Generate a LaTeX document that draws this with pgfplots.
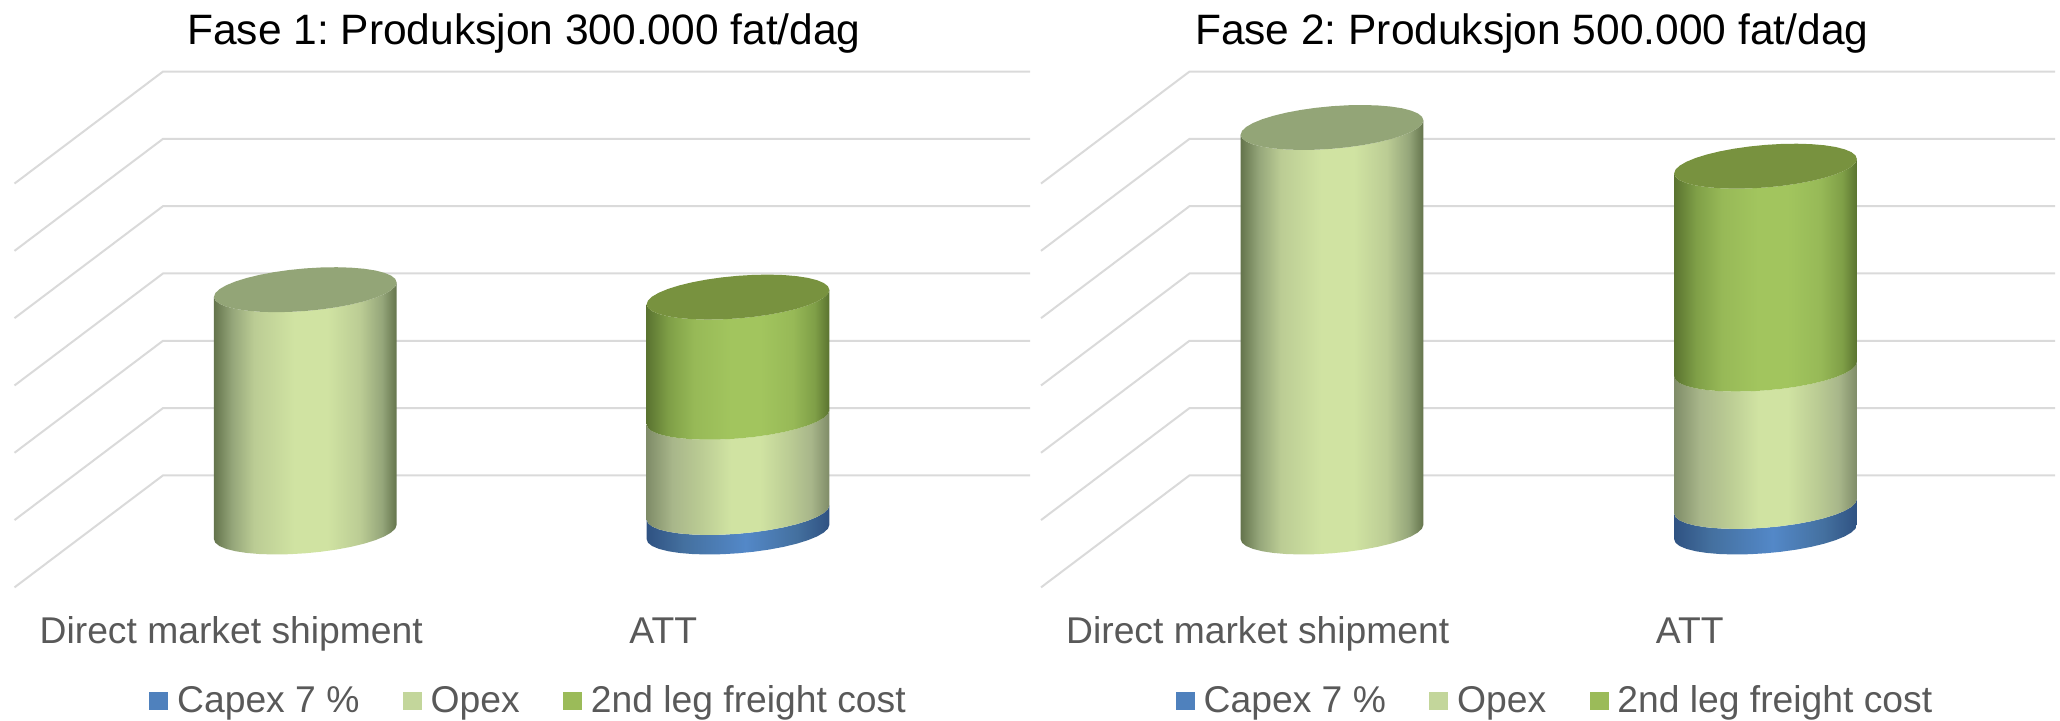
\documentclass[border=0pt]{standalone}
\usepackage{fontspec}
\setmainfont{Liberation Sans}
\usepackage{pgfplots}
\usepackage{pgfplotstable}
\pgfplotsset{compat=1.18}

% Series colours
\definecolor{capexc}{HTML}{4F81BD}
\definecolor{opexc}{HTML}{C3D69B}
\definecolor{freightc}{HTML}{9BBB59}
\definecolor{opextop}{HTML}{93A577}
\definecolor{freighttop}{HTML}{78923F}
\definecolor{gridc}{HTML}{DADADA}
\definecolor{labelc}{HTML}{595959}

% Sideways lighting of the cylinder mantles; a path spans 25bp to 75bp
\definecolor{oa}{HTML}{64744C}\definecolor{ob}{HTML}{95A67A}\definecolor{oc}{HTML}{BBCC94}\definecolor{od}{HTML}{D0E3A2}
\pgfdeclarehorizontalshading{mantleOpex}{100bp}{color(0bp)=(oa); color(25bp)=(oa); color(30bp)=(ob); color(36bp)=(oc); color(47bp)=(od); color(56bp)=(od); color(65bp)=(oc); color(71bp)=(ob); color(75bp)=(oa); color(100bp)=(oa)}
\definecolor{pa}{HTML}{7F8C68}\definecolor{pb}{HTML}{A8B68A}
\pgfdeclarehorizontalshading{mantleOpexStack}{100bp}{color(0bp)=(pa); color(25bp)=(pa); color(32bp)=(pb); color(40bp)=(oc); color(48bp)=(od); color(56bp)=(od); color(64bp)=(oc); color(70bp)=(pb); color(75bp)=(pa); color(100bp)=(pa)}
\definecolor{fa}{HTML}{5A7330}\definecolor{fb}{HTML}{7F9F47}\definecolor{fc}{HTML}{97B957}\definecolor{fd}{HTML}{A2C55E}
\pgfdeclarehorizontalshading{mantleFreight}{100bp}{color(0bp)=(fa); color(25bp)=(fa); color(31bp)=(fb); color(38bp)=(fc); color(48bp)=(fd); color(56bp)=(fd); color(65bp)=(fc); color(71bp)=(fb); color(75bp)=(fa); color(100bp)=(fa)}
\definecolor{ca}{HTML}{2F5282}\definecolor{cb}{HTML}{44709F}\definecolor{cd}{HTML}{5388C8}
\pgfdeclarehorizontalshading{mantleCapex}{100bp}{color(0bp)=(ca); color(25bp)=(ca); color(35bp)=(cb); color(52bp)=(cd); color(66bp)=(cb); color(75bp)=(ca); color(100bp)=(ca)}

% Values per chart, in gridline steps above the floor
\pgfplotstableread{
cx capex opex freight
305.3 0 3.60 0
738.0 0.29 1.415 1.785
}\faseone
\pgfplotstableread{
cx capex opex freight
305.5 0 6.01 0
739.0 0.38 2.04 3.015
}\fasetwo

% Unit outline of a mantle: front rim of the base, then front rim of the top
\pgfplotstableread{
c s h
1 0 0
.9848 -.1736 0
.9397 -.3420 0
.8660 -.5 0
.7660 -.6428 0
.6428 -.7660 0
.5 -.8660 0
.3420 -.9397 0
.1736 -.9848 0
0 -1 0
-.1736 -.9848 0
-.3420 -.9397 0
-.5 -.8660 0
-.6428 -.7660 0
-.7660 -.6428 0
-.8660 -.5 0
-.9397 -.3420 0
-.9848 -.1736 0
-1 0 0
-1 0 1
-.9848 -.1736 1
-.9397 -.3420 1
-.8660 -.5 1
-.7660 -.6428 1
-.6428 -.7660 1
-.5 -.8660 1
-.3420 -.9397 1
-.1736 -.9848 1
0 -1 1
.1736 -.9848 1
.3420 -.9397 1
.5 -.8660 1
.6428 -.7660 1
.7660 -.6428 1
.8660 -.5 1
.9397 -.3420 1
.9848 -.1736 1
1 0 1
}\mantleoutline

% Unit outline of the top face
\pgfplotstableread{
c s
1 0
.9848 .1736
.9397 .3420
.8660 .5
.7660 .6428
.6428 .7660
.5 .8660
.3420 .9397
.1736 .9848
0 1
-.1736 .9848
-.3420 .9397
-.5 .8660
-.6428 .7660
-.7660 .6428
-.8660 .5
-.9397 .3420
-.9848 .1736
-1 0
-.9848 -.1736
-.9397 -.3420
-.8660 -.5
-.7660 -.6428
-.6428 -.7660
-.5 -.8660
-.3420 -.9397
-.1736 -.9848
0 -1
.1736 -.9848
.3420 -.9397
.5 -.8660
.6428 -.7660
.7660 -.6428
.8660 -.5
.9397 -.3420
.9848 -.1736
}\topoutline

% One stacked section: #1 centre, #2 lower value, #3 upper value, #4 shading
\newcommand{\mantle}[4]{%
  \addplot[draw=none, shading=#4, forget plot] table[
    x expr=#1+91.35*\thisrow{c},
    y expr=#2+(#3-#2)*\thisrow{h}+.3165*\thisrow{s}+.107*\thisrow{c}
  ] {\mantleoutline} -- cycle;
}
% Top face: #1 centre, #2 value, #3 colour
\newcommand{\topface}[3]{%
  \addplot[draw=none, fill=#3, forget plot] table[
    x expr=#1+91.35*\thisrow{c},
    y expr=#2+.3165*\thisrow{s}+.107*\thisrow{c}
  ] {\topoutline} -- cycle;
}
% One full column from row #2 of table #1, #3 the shading of its opex section
\newcommand{\column}[3]{%
  \pgfplotstablegetelem{#2}{cx}\of{#1}\edef\cxv{\pgfplotsretval}%
  \pgfplotstablegetelem{#2}{capex}\of{#1}\edef\capv{\pgfplotsretval}%
  \pgfplotstablegetelem{#2}{opex}\of{#1}\edef\opv{\pgfplotsretval}%
  \pgfplotstablegetelem{#2}{freight}\of{#1}\edef\frv{\pgfplotsretval}%
  \pgfmathsetmacro\sa{\capv}%
  \pgfmathsetmacro\sb{\capv+\opv}%
  \pgfmathsetmacro\sc{\capv+\opv+\frv}%
  \ifdim\capv pt>0pt \mantle{\cxv}{0}{\sa}{mantleCapex}\fi
  \mantle{\cxv}{\sa}{\sb}{#3}%
  \ifdim\frv pt>0pt
    \mantle{\cxv}{\sb}{\sc}{mantleFreight}%
    \topface{\cxv}{\sc}{freighttop}%
  \else
    \topface{\cxv}{\sc}{opextop}%
  \fi
}
% Wall and side-wall gridline at height #1; #2 is its right end
\newcommand{\gridline}[2]{%
  \addplot[gridc, line width=1pt, forget plot, line join=miter] coordinates {(14.5,#1-0.823) (163,#1+0.841) (#2,#1+0.841)};
}

\pgfplotsset{phase chart/.style={
  scale only axis, width=515pt, height=270pt,
  anchor=south west, clip=false,
  xmin=0, xmax=1030, ymin=-1.0104, ymax=7.013,
  axis line style={draw=none}, major tick length=0pt,
  ytick=\empty,
  xtick={231.2,663.2},
  xticklabels={Direct market shipment,ATT},
  x tick label style={anchor=base, yshift=-21.85pt, font=\fontsize{18.63pt}{22pt}\selectfont, text=labelc},
  title style={anchor=base, font=\fontsize{21.25pt}{25pt}\selectfont, text=black},
  legend columns=3,
  legend cell align=left,
  legend style={
    at={(axis description cs:0.14466,-0.187)}, anchor=west, draw=none, fill=none,
    inner sep=0pt, font=\fontsize{18.63pt}{22pt}\selectfont, text=labelc,
    nodes={inner xsep=0pt, inner ysep=0pt},
    /tikz/every even column/.append style={column sep=21.7pt},
    /tikz/every odd column/.append style={column sep=4.4pt}
  },
  legend image code/.code={\fill[##1] (0pt,-4.7pt) rectangle (9.5pt,4.7pt);},
}}

\begin{document}
\frenchspacing
\begin{tikzpicture}[x=1pt,y=1pt]
\useasboundingbox (0pt,0pt) rectangle (1030pt,360.5pt);

\begin{axis}[phase chart, at={(0pt,60.5pt)},
  title={Fase 1: Produksjon 300.000 fat/dag},
  title style={at={(axis description cs:0.5087,1.0056)}}]
  \addlegendimage{fill=capexc, draw=none}\addlegendentry{Capex 7 \%}
  \addlegendimage{fill=opexc, draw=none}\addlegendentry{Opex}
  \addlegendimage{fill=freightc, draw=none}\addlegendentry{2nd leg freight cost}
  \gridline{0}{1030}\gridline{1}{1030}\gridline{2}{1030}\gridline{3}{1030}\gridline{4}{1030}\gridline{5}{1030}\gridline{6}{1030}
  \column{\faseone}{0}{mantleOpex}
  \column{\faseone}{1}{mantleOpexStack}
\end{axis}

\begin{axis}[phase chart, at={(513.25pt,60.5pt)},
  title={Fase 2: Produksjon 500.000 fat/dag},
  title style={at={(axis description cs:0.4905,1.0056)}}]
  \addlegendimage{fill=capexc, draw=none}\addlegendentry{Capex 7 \%}
  \addlegendimage{fill=opexc, draw=none}\addlegendentry{Opex}
  \addlegendimage{fill=freightc, draw=none}\addlegendentry{2nd leg freight cost}
  \gridline{0}{1028.5}\gridline{1}{1028.5}\gridline{2}{1028.5}\gridline{3}{1028.5}\gridline{4}{1028.5}\gridline{5}{1028.5}\gridline{6}{1028.5}
  \column{\fasetwo}{0}{mantleOpex}
  \column{\fasetwo}{1}{mantleOpexStack}
\end{axis}
\end{tikzpicture}
\end{document}
